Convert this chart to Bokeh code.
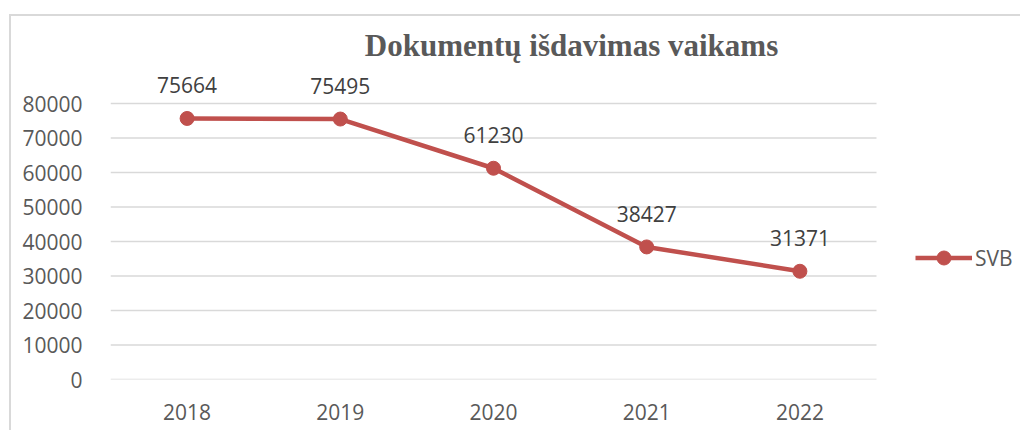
from bokeh.plotting import figure
from bokeh.models import (ColumnDataSource, Range1d, FixedTicker,
                          NumeralTickFormatter, Label, Legend, LegendItem)
from bokeh.core.properties import value
from bokeh.embed import file_html
from bokeh.resources import INLINE

years = ["2018", "2019", "2020", "2021", "2022"]
svb = [75664, 75495, 61230, 38427, 31371]
y_ticks = [0, 10000, 20000, 30000, 40000, 50000, 60000, 70000, 80000]
title_text = "Dokumentų išdavimas vaikams"
series_name = "SVB"

RED = "#C0504D"
GRID = "#d9d9d9"
TXT = "#595959"
FONT = "Open Sans"

W, H = 1020, 430
F_LEFT, F_TOP, F_BOTTOM = 110, 10, 379
PX_X = 153.2            # pixels per category
PX_Y = 34.5 / 10000.0   # pixels per unit of value

xpos = [i + 0.5 for i in range(len(years))]
src = ColumnDataSource(dict(x=xpos, y=svb, lbl=[str(v) for v in svb]))

x_end = (W - F_LEFT) / PX_X
y_end = (F_BOTTOM - F_TOP) / PX_Y

p = figure(width=W, height=H, output_backend="svg", toolbar_location=None,
           x_range=Range1d(0, x_end), y_range=Range1d(0, y_end),
           min_border_left=F_LEFT, min_border_right=0, min_border_top=F_TOP,
           min_border_bottom=H - F_BOTTOM)
p.border_fill_alpha = 0
p.background_fill_alpha = 0
p.outline_line_color = None
p.styles = {
    "background": ("linear-gradient(#d9d9d9,#d9d9d9) 9px 14px / 2px 100% no-repeat, "
                   "linear-gradient(#d9d9d9,#d9d9d9) 9px 14px / 100% 2px no-repeat, white"),
}

p.xgrid.grid_line_color = None
p.ygrid.grid_line_color = None
# horizontal gridlines only across the category area
p.segment(x0=0, x1=len(years), y0=y_ticks, y1=y_ticks, line_color=GRID, line_width=1.5)

p.yaxis.ticker = FixedTicker(ticks=y_ticks)
p.yaxis.formatter = NumeralTickFormatter(format="0")
p.xaxis.ticker = FixedTicker(ticks=xpos)
p.xaxis.major_label_overrides = {x: y for x, y in zip(xpos, years)}
for ax in (p.xaxis[0], p.yaxis[0]):
    ax.axis_line_color = None
    ax.major_tick_line_color = None
    ax.minor_tick_line_color = None
    ax.major_label_text_font = FONT
    ax.major_label_text_font_size = "21px"
    ax.major_label_text_color = TXT
p.yaxis.major_label_standoff = 22
p.xaxis.major_label_standoff = 18

ln = p.line("x", "y", source=src, line_color=RED, line_width=4.5)
sc = p.scatter("x", "y", source=src, size=14, fill_color=RED, line_color=RED)
p.text("x", "y", text="lbl", source=src, y_offset=-33, text_align="center",
       text_baseline="middle", text_font=value(FONT), text_font_size="21px",
       text_color="#404040")

legend = Legend(items=[LegendItem(label=series_name, renderers=[ln, sc])],
                location=(805, 104), orientation="vertical",
                glyph_width=57, glyph_height=35, label_height=35,
                label_standoff=3, padding=0, spacing=0, margin=0,
                border_line_alpha=0, background_fill_alpha=0,
                label_text_font=FONT, label_text_font_size="21px",
                label_text_color=TXT)
p.add_layout(legend, "center")

title = Label(x=(571 - F_LEFT) / PX_X, y=(F_BOTTOM - 45) / PX_Y, text=title_text,
              text_align="center", text_baseline="alphabetic",
              text_font="Liberation Serif", text_font_style="bold",
              text_font_size="31px", text_color=TXT)
p.add_layout(title)

open("out.html", "w").write(file_html(p, INLINE))
